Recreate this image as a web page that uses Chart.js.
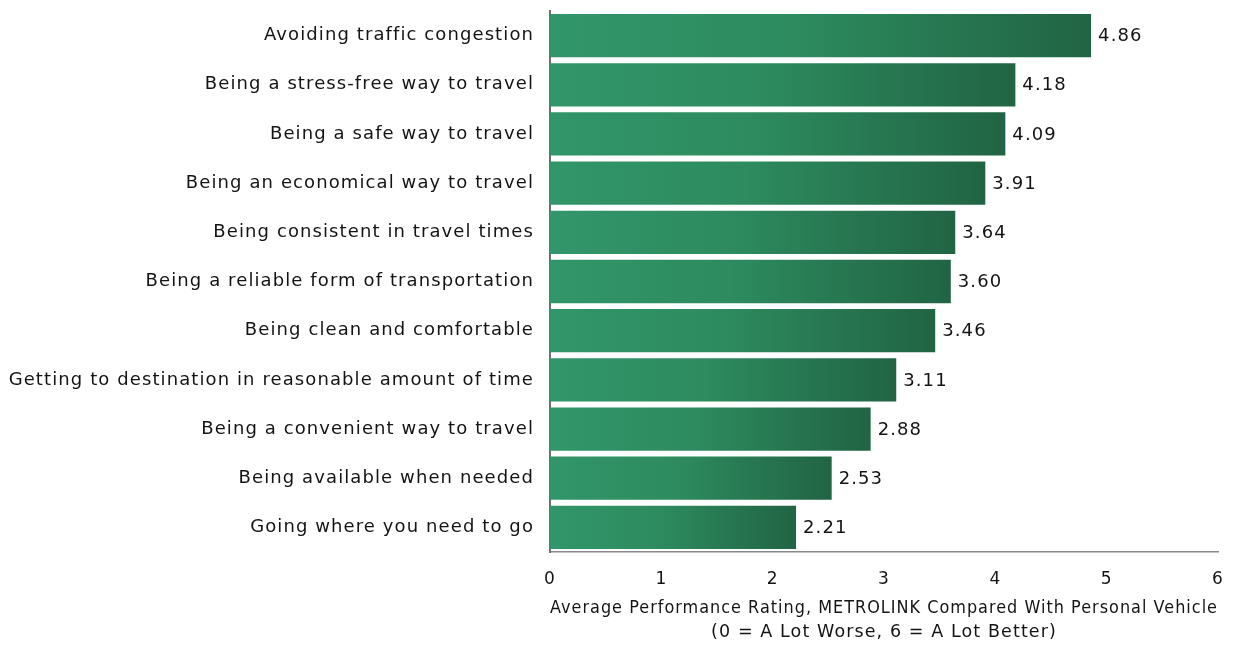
<!DOCTYPE html>
<html>
<head>
<meta charset="utf-8">
<script src="https://cdn.jsdelivr.net/npm/chart.js@4/dist/chart.umd.min.js"></script>
<style>
  html, body { margin: 0; padding: 0; background: #fff; }
  #wrap { width: 1237px; height: 645px; }
</style>
</head>
<body>
<div id="wrap"><canvas id="chart_rating" width="1237" height="645"></canvas></div>
<script>
const categories = [
    'Avoiding traffic congestion',
    'Being a stress-free way to travel',
    'Being a safe way to travel',
    'Being an economical way to travel',
    'Being consistent in travel times',
    'Being a reliable form of transportation',
    'Being clean and comfortable',
    'Getting to destination in reasonable amount of time',
    'Being a convenient way to travel',
    'Being available when needed',
    'Going where you need to go'
];
const ratings = [4.86, 4.18, 4.09, 3.91, 3.64, 3.60, 3.46, 3.11, 2.88, 2.53, 2.21];
const xTicks = [0, 1, 2, 3, 4, 5, 6];
const axisTitle = ['Average Performance Rating, METROLINK Compared With Personal Vehicle',
                   '(0 = A Lot Worse, 6 = A Lot Better)'];

const FONT = 'DejaVu Sans';
const SPACING = '1.1px';

// each bar gets its own left-to-right gradient
function barGradient(context) {
    const chart = context.chart;
    const x = chart.scales.x;
    if (!chart.chartArea || !x) return '#2c8a5f';
    const v = context.raw;
    const x0 = x.getPixelForValue(0);
    const x1 = x.getPixelForValue(v);
    if (!isFinite(x0) || !isFinite(x1) || x1 <= x0) return '#2c8a5f';
    const g = chart.ctx.createLinearGradient(x0, 0, x1, 0);
    g.addColorStop(0, '#31966a');
    g.addColorStop(0.45, '#2d8b5f');
    g.addColorStop(1, '#216444');
    return g;
}

// the source font is loosely tracked, so widen the letters a bit
const tracking = {
    id: 'tracking',
    beforeLayout(chart) { chart.ctx.letterSpacing = SPACING; },
    beforeDraw(chart) { chart.ctx.letterSpacing = SPACING; }
};

const valueLabels = {
    id: 'valueLabels',
    afterDatasetsDraw(chart) {
        const ctx = chart.ctx;
        const meta = chart.getDatasetMeta(0);
        ctx.save();
        ctx.font = '18px "' + FONT + '"';
        ctx.fillStyle = '#141414';
        ctx.textAlign = 'left';
        ctx.textBaseline = 'middle';
        meta.data.forEach((bar, i) => {
            ctx.fillText(ratings[i].toFixed(2), bar.x + 7, bar.y + 1);
        });
        ctx.restore();
    }
};

const ctx = document.querySelector('#chart_rating').getContext('2d');
const chart = new Chart(ctx, {
    type: 'bar',
    data: {
        labels: categories,
        datasets: [{
            data: ratings,
            backgroundColor: barGradient,
            borderWidth: 0,
            barPercentage: 0.88,
            categoryPercentage: 1.0
        }]
    },
    plugins: [tracking, valueLabels],
    options: {
        indexAxis: 'y',
        responsive: false,
        animation: false,
        layout: {
            padding: { left: 0, right: 19, top: 11, bottom: 0 }
        },
        scales: {
            x: {
                min: 0,
                max: 6,
                afterBuildTicks(axis) {
                    axis.ticks = xTicks.map(v => ({ value: v }));
                },
                grid: { display: false, drawTicks: false },
                border: { display: true, color: '#8a8a8a', width: 1.5 },
                ticks: {
                    padding: 17,
                    color: '#141414',
                    font: { family: FONT, size: 17 }
                },
                title: {
                    display: true,
                    text: axisTitle,
                    color: '#141414',
                    font: { family: FONT, size: 17.5, lineHeight: 1.4 },
                    padding: { top: 0, bottom: 0 }
                },
                afterFit(axis) {
                    axis.height = 93;
                    axis.paddingLeft = 0;
                    axis.paddingRight = 0;
                }
            },
            y: {
                grid: { display: false, drawTicks: false },
                border: { display: true, color: '#6e6e6e', width: 2 },
                ticks: {
                    padding: 16,
                    color: '#141414',
                    font: { family: FONT, size: 18 }
                },
                afterFit(axis) {
                    axis.width = 550;
                    axis.paddingTop = 0;
                    axis.paddingBottom = 0;
                }
            }
        },
        plugins: {
            legend: { display: false },
            tooltip: { enabled: false }
        }
    }
});
</script>
</body>
</html>
